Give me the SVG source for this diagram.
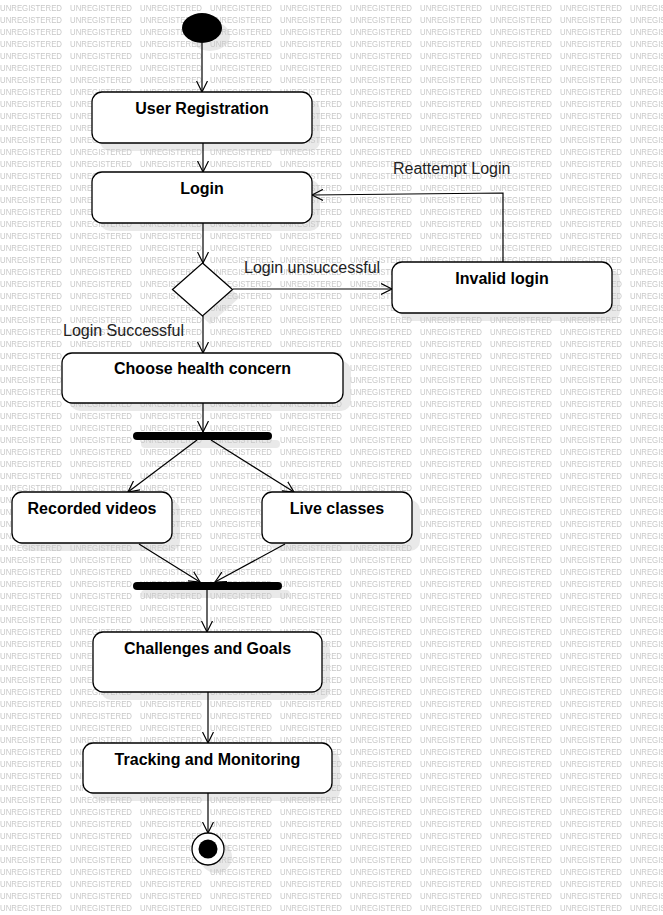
<svg xmlns="http://www.w3.org/2000/svg" width="663" height="915" viewBox="0 0 663 915">
<style>
.box{fill:#fff;stroke:#000;stroke-width:1.3}
.sh{fill:#e9e9e9}
.t{font-family:"Liberation Sans",Arial,sans-serif;font-size:16px;font-weight:bold;fill:#000;text-anchor:middle}
.lbl{font-family:"Liberation Sans",Arial,sans-serif;font-size:16px;fill:#222}
.wm{font-family:"Liberation Sans",Arial,sans-serif;font-size:8.5px;fill:#c8c8c8}
.edge{fill:none;stroke:#000;stroke-width:1.2}
.bar{fill:#000}
</style>
<defs>
<pattern id="wm" patternUnits="userSpaceOnUse" width="70" height="12">
<text class="wm" x="0" y="11" textLength="62" lengthAdjust="spacingAndGlyphs">UNREGISTERED</text>
</pattern>
<marker id="arr" markerWidth="14" markerHeight="12" refX="11" refY="6" orient="auto" markerUnits="userSpaceOnUse">
<path d="M0,0.5 L11,6 L0,11.5" fill="none" stroke="#000" stroke-width="1.2"/>
</marker>
</defs>
<rect width="663" height="915" fill="#fff"/>
<g id="shadows">
<ellipse class="sh" cx="210" cy="36" rx="20" ry="15"/>
<rect class="sh" x="100" y="100" width="220" height="51" rx="10"/>
<rect class="sh" x="100" y="180" width="220" height="51" rx="10"/>
<polygon class="sh" points="210,271 240,297 210,324 180,297"/>
<rect class="sh" x="400" y="270" width="220" height="51" rx="10"/>
<rect class="sh" x="70" y="361" width="281" height="50" rx="10"/>
<rect class="sh" x="141" y="440" width="139" height="8" rx="4"/>
<rect class="sh" x="20" y="500" width="160" height="51" rx="10"/>
<rect class="sh" x="270" y="500" width="150" height="51" rx="10"/>
<rect class="sh" x="141" y="590" width="149" height="8" rx="4"/>
<rect class="sh" x="101" y="640" width="229" height="60" rx="10"/>
<rect class="sh" x="91" y="751" width="249" height="50" rx="10"/>
<circle class="sh" cx="216" cy="857" r="16"/>
</g>
<rect width="663" height="915" fill="url(#wm)"/>
<g id="connectors">
<line class="edge" x1="202" y1="43" x2="202" y2="92" marker-end="url(#arr)"/>
<line class="edge" x1="203" y1="143" x2="203" y2="172" marker-end="url(#arr)"/>
<line class="edge" x1="203" y1="223" x2="203" y2="263" marker-end="url(#arr)"/>
<line class="edge" x1="233" y1="289" x2="392" y2="289" marker-end="url(#arr)"/>
<polyline class="edge" points="503,262 503,193 312,195" marker-end="url(#arr)"/>
<line class="edge" x1="203" y1="316" x2="203" y2="353" marker-end="url(#arr)"/>
<line class="edge" x1="203" y1="403" x2="203" y2="432" marker-end="url(#arr)"/>
<line class="edge" x1="197" y1="440" x2="128" y2="492" marker-end="url(#arr)"/>
<line class="edge" x1="211" y1="440" x2="294" y2="492" marker-end="url(#arr)"/>
<line class="edge" x1="139" y1="544" x2="200" y2="582" marker-end="url(#arr)"/>
<line class="edge" x1="285" y1="544" x2="215" y2="582" marker-end="url(#arr)"/>
<line class="edge" x1="207" y1="590" x2="207" y2="632" marker-end="url(#arr)"/>
<line class="edge" x1="208" y1="692" x2="208" y2="743" marker-end="url(#arr)"/>
<line class="edge" x1="208" y1="793" x2="208" y2="833" marker-end="url(#arr)"/>
<text class="lbl" x="244" y="273">Login unsuccessful</text>
<text class="lbl" x="393" y="174">Reattempt Login</text>
<text class="lbl" x="63" y="336">Login Successful</text>
</g>
<g id="start"><ellipse cx="202" cy="28" rx="20" ry="15" fill="#000"/></g>
<g id="user-registration"><rect class="box" x="92" y="92" width="220" height="51" rx="10"/><text class="t" x="202" y="114">User Registration</text></g>
<g id="login"><rect class="box" x="92" y="172" width="220" height="51" rx="10"/><text class="t" x="202" y="194">Login</text></g>
<g id="decision"><polygon class="box" points="202.5,263 232.5,289.5 202.5,316 172.5,289.5"/></g>
<g id="invalid-login"><rect class="box" x="392" y="262" width="220" height="51" rx="10"/><text class="t" x="502" y="284">Invalid login</text></g>
<g id="choose-health-concern"><rect class="box" x="62" y="353" width="281" height="50" rx="10"/><text class="t" x="202.5" y="374">Choose health concern</text></g>
<g id="fork"><rect class="bar" x="133" y="432" width="139" height="8" rx="4"/></g>
<g id="recorded-videos"><rect class="box" x="12" y="492" width="160" height="51" rx="10"/><text class="t" x="92" y="514">Recorded videos</text></g>
<g id="live-classes"><rect class="box" x="262" y="492" width="150" height="51" rx="10"/><text class="t" x="337" y="514">Live classes</text></g>
<g id="join"><rect class="bar" x="133" y="582" width="149" height="8" rx="4"/></g>
<g id="challenges-and-goals"><rect class="box" x="93" y="632" width="229" height="60" rx="10"/><text class="t" x="207.5" y="654">Challenges and Goals</text></g>
<g id="tracking-and-monitoring"><rect class="box" x="83" y="743" width="249" height="50" rx="10"/><text class="t" x="207.5" y="765">Tracking and Monitoring</text></g>
<g id="end"><circle cx="208" cy="849" r="16" fill="#fff" stroke="#000" stroke-width="1.3"/><circle cx="208" cy="849" r="9.5" fill="#000"/></g>
</svg>
